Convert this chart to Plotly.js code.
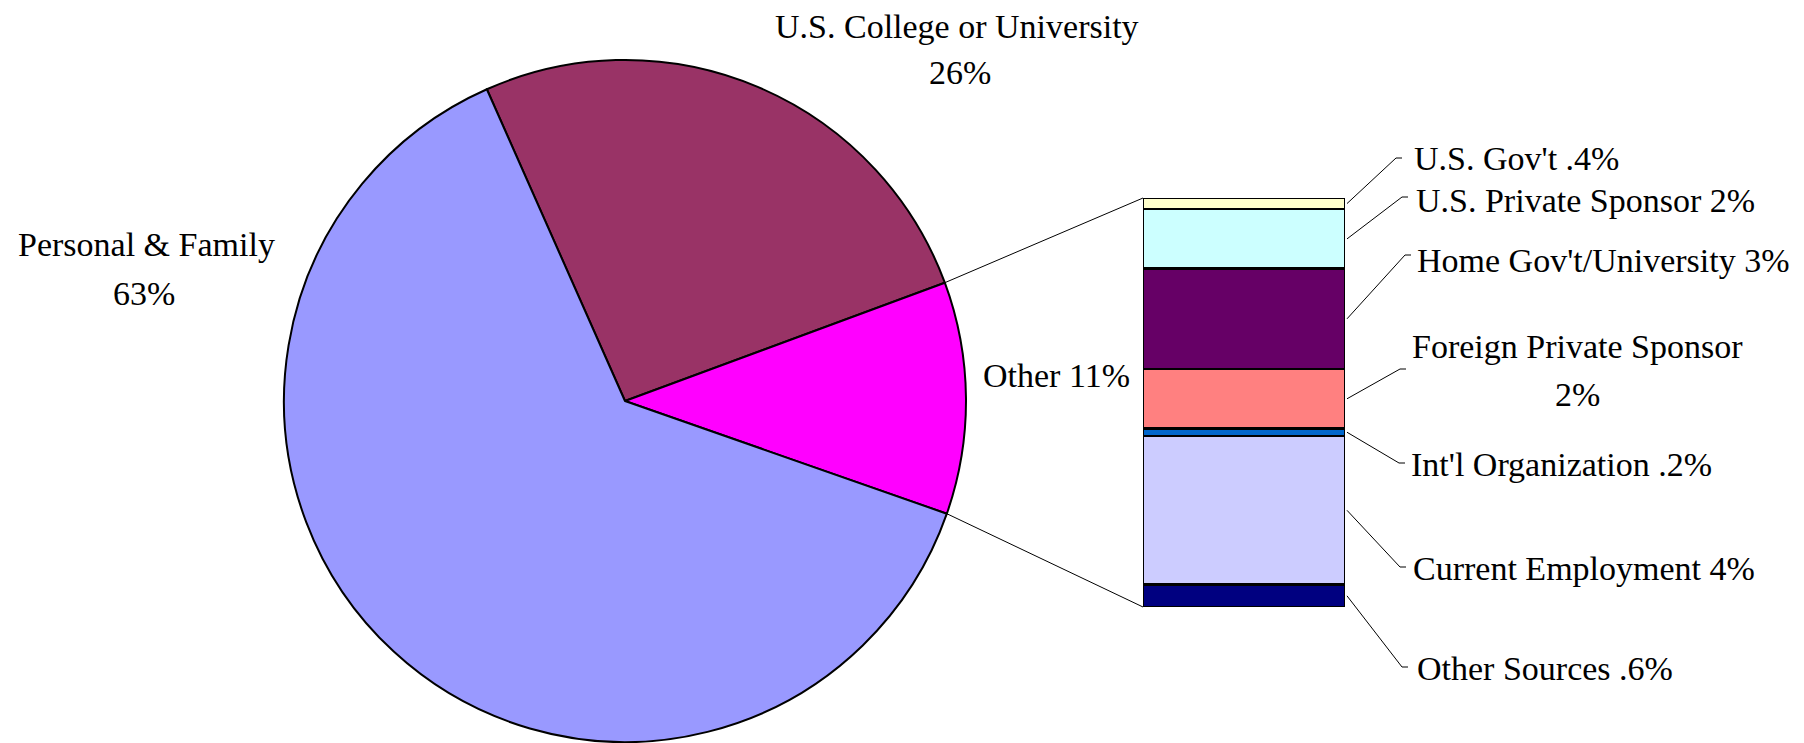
<!DOCTYPE html>
<html>
<head>
<meta charset="utf-8">
<script src="https://cdn.plot.ly/plotly-3.0.1.min.js"></script>
<style>
  html, body { margin: 0; padding: 0; background: #fff; }
  #chart { width: 1804px; height: 743px; }
</style>
</head>
<body>
<div id="chart"></div>
<script>
// ---------------- DATA ----------------
const pieLabels = ["U.S. College or University", "Other", "Personal & Family"];
const pieValues = [26, 11, 63];

// breakdown of "Other", listed bottom to top of the stacked bar
const barLabels = ["Other Sources", "Current Employment", "Int'l Organization",
                   "Foreign Private Sponsor", "Home Gov't/University",
                   "U.S. Private Sponsor", "U.S. Gov't"];
const barValues = [0.6, 4.0, 0.2, 1.6, 2.7, 1.6, 0.3];
const barPctLabels = [".6%", "4%", ".2%", "2%", "3%", "2%", ".4%"];

// ---------------- STYLE / LAYOUT ----------------
const W = 1804, H = 743;
const pieColors = ["#993366", "#FF00FF", "#9999FF"];
const barColors = ["#000080", "#CCCCFF", "#0066CC", "#FF8080", "#660066", "#CCFFFF", "#FFFFCC"];
const pieBox = { x0: 284, x1: 966, y0: 60, y1: 742 };   // pixel box of the pie
const barBox = { x0: 1143, x1: 1345, y0: 198, y1: 607 }; // pixel box of the bar
const pieRotation = -23.9;
const FONT = { family: "Liberation Serif, 'Times New Roman', serif", size: 34, color: "#000" };

const px = x => x / W;
const py = y => 1 - y / H;

// pie label placement (pixel text anchors)
const pieLabelPos = [
  { lines: [[957, 26], [960, 73]], xanchor: "center", split: true },  // College
  { lines: [[981, 375]], xanchor: "left", split: false },             // Other
  { lines: [[146, 245], [144, 293]], xanchor: "center", split: true } // Personal
];
// bar label placement: kink point of the leader, text anchor
const barLabelPos = [
  { kink: [1402, 667], text: [[1415, 668]], xanchor: "left", split: false },
  { kink: [1400, 567], text: [[1411, 568]], xanchor: "left", split: false },
  { kink: [1399, 463], text: [[1409, 465]], xanchor: "left", split: false },
  { kink: [1400, 369], text: [[1577, 347], [1577, 394]], xanchor: "center", split: true },
  { kink: [1405, 255], text: [[1415, 260]], xanchor: "left", split: false },
  { kink: [1402, 197], text: [[1414, 200]], xanchor: "left", split: false },
  { kink: [1396, 158], text: [[1412, 158]], xanchor: "left", split: false }
];

// ---------------- TRACES ----------------
const traces = [];
traces.push({
  type: "pie",
  labels: pieLabels,
  values: pieValues,
  sort: false,
  direction: "clockwise",
  rotation: pieRotation,
  marker: { colors: pieColors, line: { color: "#000", width: 2 } },
  textinfo: "none",
  hoverinfo: "skip",
  showlegend: false,
  domain: { x: [px(pieBox.x0), px(pieBox.x1)], y: [py(pieBox.y1), py(pieBox.y0)] }
});

const barTotal = barValues.reduce((a, b) => a + b, 0);
barValues.forEach((v, i) => {
  traces.push({
    type: "bar",
    x: [0],
    y: [v],
    width: 1,
    name: barLabels[i],
    marker: { color: barColors[i], line: { color: "#000", width: 2.5 } },
    hoverinfo: "skip",
    showlegend: false
  });
});

// ---------------- SHAPES & ANNOTATIONS ----------------
const shapes = [];
const annotations = [];
const lineStyle = { color: "#000", width: 1 };

// pie geometry
const pcx = (pieBox.x0 + pieBox.x1) / 2, pcy = (pieBox.y0 + pieBox.y1) / 2;
const pr = Math.min(pieBox.x1 - pieBox.x0, pieBox.y1 - pieBox.y0) / 2;
const pieTotal = pieValues.reduce((a, b) => a + b, 0);
const otherIdx = pieLabels.indexOf("Other");
let cumBefore = 0;
for (let i = 0; i < otherIdx; i++) cumBefore += pieValues[i];
const angStart = (pieRotation + 360 * cumBefore / pieTotal) * Math.PI / 180;
const angEnd = (pieRotation + 360 * (cumBefore + pieValues[otherIdx]) / pieTotal) * Math.PI / 180;
const edgePt = a => [pcx + pr * Math.sin(a), pcy - pr * Math.cos(a)];
const pStart = edgePt(angStart), pEnd = edgePt(angEnd);

// bar geometry in pixels from data
const barYpx = val => barBox.y1 - val / barTotal * (barBox.y1 - barBox.y0);

// connectors pie -> bar
shapes.push({ type: "line", xref: "paper", yref: "paper",
  x0: px(pStart[0]), y0: py(pStart[1]), x1: px(barBox.x0), y1: py(barYpx(barTotal)), line: lineStyle });
shapes.push({ type: "line", xref: "paper", yref: "paper",
  x0: px(pEnd[0]), y0: py(pEnd[1]), x1: px(barBox.x0), y1: py(barYpx(0)), line: lineStyle });

// pie labels
pieLabels.forEach((lab, i) => {
  const pos = pieLabelPos[i];
  const pct = pieValues[i] + "%";
  const texts = pos.split ? [lab, pct] : [lab + " " + pct];
  texts.forEach((t, k) => {
    annotations.push({ text: t, x: px(pos.lines[k][0]), y: py(pos.lines[k][1]),
      xref: "paper", yref: "paper", xanchor: pos.xanchor, yanchor: "middle",
      showarrow: false, font: FONT });
  });
});

// bar labels with leader lines
let cum = 0;
barValues.forEach((v, i) => {
  const mid = barYpx(cum + v / 2);
  cum += v;
  const pos = barLabelPos[i];
  const sx = barBox.x1 + 2;
  const k = pos.kink;
  shapes.push({ type: "path", xref: "paper", yref: "paper",
    path: `M ${px(sx)} ${py(mid)} L ${px(k[0])} ${py(k[1])} L ${px(k[0] + 6)} ${py(k[1])}`,
    line: lineStyle });
  const texts = pos.split ? [barLabels[i], barPctLabels[i]] : [barLabels[i] + " " + barPctLabels[i]];
  texts.forEach((t, j) => {
    annotations.push({ text: t, x: px(pos.text[j][0]), y: py(pos.text[j][1]),
      xref: "paper", yref: "paper", xanchor: pos.xanchor, yanchor: "middle",
      showarrow: false, font: FONT });
  });
});

const layout = {
  width: W, height: H,
  margin: { l: 0, r: 0, t: 0, b: 0, pad: 0 },
  paper_bgcolor: "#fff", plot_bgcolor: "rgba(0,0,0,0)",
  showlegend: false,
  barmode: "stack", bargap: 0,
  xaxis: { domain: [px(barBox.x0), px(barBox.x1)], range: [-0.5, 0.5], visible: false, fixedrange: true },
  yaxis: { domain: [py(barBox.y1), py(barBox.y0)], range: [0, barTotal], visible: false, fixedrange: true },
  shapes: shapes,
  annotations: annotations
};

Plotly.newPlot("chart", traces, layout, { staticPlot: true, displayModeBar: false });
</script>
</body>
</html>
